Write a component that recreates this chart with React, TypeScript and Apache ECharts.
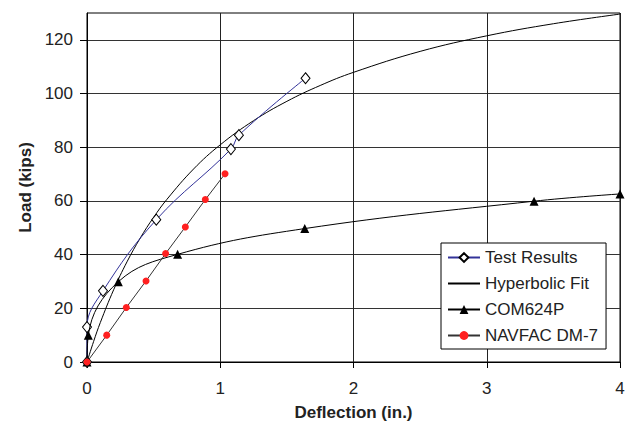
import React, { useEffect, useRef } from "react";
import * as echarts from "echarts";

// Load–deflection curves for the pile load test
const xTicks = [0, 1, 2, 3, 4];
const yTicks = [0, 20, 40, 60, 80, 100, 120];

const testResults: [number, number][] = [
  [0, 0], [0, 13], [0.12, 26.5], [0.52, 53], [1.08, 79.3], [1.14, 84.5], [1.64, 105.7],
];

const hyperbolicFit: [number, number][] = [
  [0, 0], [0.05, 7.7], [0.1, 14.7], [0.2, 26.9], [0.3, 37.3], [0.4, 46.2], [0.5, 53.9],
  [0.6, 60.6], [0.8, 71.9], [1.0, 80.9], [1.25, 89.9], [1.5, 97.1], [1.75, 103.0],
  [2.0, 107.9], [2.5, 115.7], [3.0, 121.5], [3.5, 126.0], [4.0, 129.6],
];

const com624p: [number, number][] = [
  [0, 0], [0.01, 10], [0.235, 29.9], [0.68, 40.1], [1.634, 49.7], [3.355, 59.9], [4.0, 62.6],
];

const navfac: [number, number][] = [
  [0, 0], [0.148, 10], [0.295, 20.3], [0.443, 30.2], [0.59, 40.4], [0.738, 50.3], [0.888, 60.5], [1.036, 70.1],
];

const FONT = "'Liberation Sans', Arial, sans-serif";

export default function App() {
  const ref = useRef<HTMLDivElement>(null);

  useEffect(() => {
    if (!ref.current) return;
    const chart = echarts.init(ref.current, undefined, { renderer: "svg" });
    chart.setOption({
      animation: false,
      backgroundColor: "#fff",
      textStyle: { fontFamily: FONT },
      grid: {
        left: 87,
        right: 15,
        top: 13,
        bottom: 59,
        containLabel: false,
        outerBoundsMode: "none",
        show: true,
        borderColor: "#000",
        borderWidth: 1,
        backgroundColor: "transparent",
      },
      legend: {
        orient: "vertical",
        left: 441,
        top: 243,
        backgroundColor: "#fff",
        borderColor: "#000",
        borderWidth: 1,
        borderRadius: 0,
        padding: [6, 8, 5, 6],
        itemWidth: 32,
        itemHeight: 11,
        itemGap: 9,
        textStyle: { fontSize: 17, color: "#222", fontFamily: FONT },
        data: [
          "Test Results",
          { name: "Hyperbolic Fit", itemStyle: { opacity: 0 } },
          "COM624P",
          "NAVFAC DM-7",
        ],
      },
      xAxis: {
        type: "value",
        min: 0,
        max: 4,
        interval: 1,
        name: "Deflection (in.)",
        nameLocation: "middle",
        nameGap: 42,
        nameTextStyle: { fontSize: 17, fontWeight: "bold", color: "#222", fontFamily: FONT },
        axisLine: { show: true, lineStyle: { color: "#000", width: 1 } },
        axisTick: { show: true, length: 6, lineStyle: { color: "#000" } },
        axisLabel: {
          fontSize: 17,
          color: "#222",
          margin: 18,
          fontFamily: FONT,
          customValues: xTicks,
        },
        splitLine: { show: true, lineStyle: { color: "#222", width: 1 } },
      },
      yAxis: {
        type: "value",
        min: 0,
        max: 130,
        interval: 20,
        name: "Load (kips)",
        nameLocation: "middle",
        nameGap: 53,
        nameTextStyle: { fontSize: 17, fontWeight: "bold", color: "#222", fontFamily: FONT },
        axisLine: { show: true, lineStyle: { color: "#000", width: 1 } },
        axisTick: { show: true, length: 7, lineStyle: { color: "#000" }, customValues: yTicks },
        axisLabel: {
          fontSize: 17,
          color: "#222",
          margin: 14,
          fontFamily: FONT,
          customValues: yTicks,
        },
        splitLine: { show: true, lineStyle: { color: "#333", width: 1 } },
      },
      series: [
        {
          name: "Test Results",
          type: "line",
          data: testResults,
          smooth: 0.4,
          symbol: "diamond",
          symbolSize: [9, 11],
          lineStyle: { color: "#333399", width: 1 },
          itemStyle: { color: "#fff", borderColor: "#000", borderWidth: 1 },
          z: 3,
        },
        {
          name: "Hyperbolic Fit",
          type: "line",
          data: hyperbolicFit,
          smooth: 0.4,
          symbol: "none",
          lineStyle: { color: "#000", width: 1 },
          itemStyle: { color: "#000" },
          z: 2,
        },
        {
          name: "COM624P",
          type: "line",
          data: com624p,
          smooth: 0.4,
          symbol: "triangle",
          symbolSize: 9,
          lineStyle: { color: "#000", width: 1 },
          itemStyle: { color: "#000" },
          z: 4,
        },
        {
          name: "NAVFAC DM-7",
          type: "line",
          data: navfac,
          smooth: false,
          symbol: "circle",
          symbolSize: 7,
          lineStyle: { color: "#333", width: 1 },
          itemStyle: { color: "#ff2020" },
          z: 5,
        },
      ],
    });
    return () => chart.dispose();
  }, []);

  return (
    <div
      ref={ref}
      style={{ position: "fixed", left: 0, top: 0, width: 635, height: 421 }}
    />
  );
}
